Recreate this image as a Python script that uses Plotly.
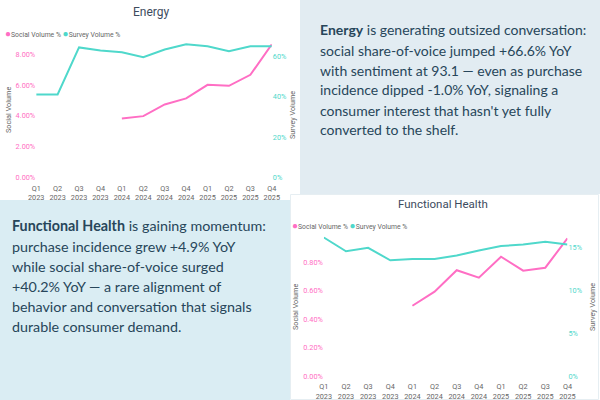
import plotly.graph_objects as go

# ---------------- data ----------------
quarters = ["Q1<br>2023", "Q2<br>2023", "Q3<br>2023", "Q4<br>2023",
            "Q1<br>2024", "Q2<br>2024", "Q3<br>2024", "Q4<br>2024",
            "Q1<br>2025", "Q2<br>2025", "Q3<br>2025", "Q4<br>2025"]

energy_social = [None, None, None, None, 3.83, 3.98, 4.74, 5.13, 6.01, 5.95, 6.66, 8.64]
energy_survey = [41.2, 41.2, 64.5, 63.0, 62.1, 59.7, 63.5, 66.1, 65.1, 62.6, 65.1, 65.1]

fh_social = [None, None, None, None, 0.493, 0.592, 0.742, 0.690, 0.837, 0.739, 0.760, 0.966]
fh_survey = [16.1, 14.5, 14.9, 13.45, 13.6, 13.6, 14.0, 14.6, 15.1, 15.3, 15.6, 15.3]

energy_left_ticks = [0, 2, 4, 6, 8]
energy_right_ticks = [0, 20, 40, 60]
fh_left_ticks = [0, 0.2, 0.4, 0.6, 0.8]
fh_right_ticks = [0, 5, 10, 15]

energy_lines = ["<b>Energy</b> is generating outsized conversation:",
                "social share-of-voice jumped +66.6% YoY",
                "with sentiment at 93.1 — even as purchase",
                "incidence dipped -1.0% YoY, signaling a",
                "consumer interest that hasn't yet fully",
                "converted to the shelf."]
fh_lines = ["<b>Functional Health</b> is gaining momentum:",
            "purchase incidence grew +4.9% YoY",
            "while social share-of-voice surged",
            "+40.2% YoY — a rare alignment of",
            "behavior and conversation that signals",
            "durable consumer demand."]

PINK = "#ff6ec4"
TEAL = "#4fd8cb"
GRAY = "#666666"
TXT = "#27465a"
CFONT = "Roboto"
TICK = 7.3

W, H = 600, 400
def px(x): return x / W
def py(y): return 1 - y / H

fig = go.Figure()

# Energy chart
fig.add_trace(go.Scatter(x=quarters, y=energy_survey, mode="lines",
                         line=dict(color=TEAL, width=2), xaxis="x", yaxis="y2",
                         name="Survey Volume %", showlegend=False))
fig.add_trace(go.Scatter(x=quarters, y=energy_social, mode="lines",
                         line=dict(color=PINK, width=2), xaxis="x", yaxis="y",
                         name="Social Volume %", showlegend=False))
# Functional Health chart
fig.add_trace(go.Scatter(x=quarters, y=fh_survey, mode="lines",
                         line=dict(color=TEAL, width=2), xaxis="x3", yaxis="y4",
                         name="Survey Volume %", showlegend=False))
fig.add_trace(go.Scatter(x=quarters, y=fh_social, mode="lines",
                         line=dict(color=PINK, width=2), xaxis="x3", yaxis="y3",
                         name="Social Volume %", showlegend=False))

xcommon = dict(type="category", showgrid=False, zeroline=False, showline=False,
               ticks="", automargin=False, ticklabelstandoff=5,
               tickfont=dict(family=CFONT, size=TICK, color=GRAY))
ycommon = dict(showgrid=False, zeroline=False, showline=False, ticks="", automargin=False)

def pct(vals, dec):
    return [f"{v:.{dec}f}%" for v in vals]

fig.update_layout(
    width=W, height=H, margin=dict(l=0, r=0, t=0, b=0, autoexpand=False),
    paper_bgcolor="white", plot_bgcolor="rgba(0,0,0,0)", showlegend=False,
    xaxis=dict(xcommon, domain=[px(36.2), px(271.8)], anchor="y"),
    yaxis=dict(ycommon, domain=[py(177.5), py(40)], range=[0, 8.92], anchor="x",
               tickmode="array", tickvals=energy_left_ticks, ticktext=pct(energy_left_ticks, 2),
               tickfont=dict(family=CFONT, size=TICK, color=PINK)),
    yaxis2=dict(ycommon, overlaying="y", side="right", range=[0, 68.2], anchor="x",
                tickmode="array", tickvals=energy_right_ticks, ticktext=pct(energy_right_ticks, 0),
                tickfont=dict(family=CFONT, size=TICK, color=TEAL)),
    xaxis3=dict(xcommon, domain=[px(323.85), px(567.45)], anchor="y3"),
    yaxis3=dict(ycommon, domain=[py(376), py(232)], range=[0, 1.0105], anchor="x3",
                tickmode="array", tickvals=fh_left_ticks, ticktext=pct(fh_left_ticks, 2),
                tickfont=dict(family=CFONT, size=TICK, color=PINK)),
    yaxis4=dict(ycommon, overlaying="y3", side="right", range=[0, 16.74], anchor="x3",
                tickmode="array", tickvals=fh_right_ticks, ticktext=pct(fh_right_ticks, 0),
                tickfont=dict(family=CFONT, size=TICK, color=TEAL)),
)

# panels
fig.add_shape(type="rect", xref="paper", yref="paper", layer="below",
              x0=px(300), x1=1, y0=py(194), y1=1, fillcolor="#e2ecf2", line_width=0)
fig.add_shape(type="rect", xref="paper", yref="paper", layer="below",
              x0=0, x1=px(290), y0=0, y1=py(200), fillcolor="#daedf3", line_width=0)
fig.add_shape(type="rect", xref="paper", yref="paper", layer="below",
              x0=px(290.5), x1=px(598.5), y0=py(399.5), y1=py(194.5), fillcolor="white",
              line=dict(color="#e6eef2", width=1))

ann = []
# text blocks, one annotation per line (20 px line pitch)
for i, line in enumerate(energy_lines):
    ann.append(dict(text=line, x=px(318), y=py(30 + 20 * i), xref="paper", yref="paper",
                    xanchor="left", yanchor="middle", align="left", showarrow=False,
                    font=dict(family="Lato", size=14, color=TXT)))
for i, line in enumerate(fh_lines):
    ann.append(dict(text=line, x=px(10), y=py(226 + 20 * i), xref="paper", yref="paper",
                    xanchor="left", yanchor="middle", align="left", showarrow=False,
                    font=dict(family="Lato", size=14.3, color=TXT)))
# titles
ann.append(dict(text="Energy", x=px(151), y=py(12), xref="paper", yref="paper",
                xanchor="center", yanchor="middle", showarrow=False,
                font=dict(family=CFONT, size=12, color="#3d4b5e")))
ann.append(dict(text="Functional Health", x=px(443), y=py(204), xref="paper", yref="paper",
                xanchor="center", yanchor="middle", showarrow=False,
                font=dict(family=CFONT, size=11.5, color="#3d4b5e")))
# legends
for (lx, ly) in [(3, 33), (290, 225)]:
    ann.append(dict(text=f"<span style='color:{PINK};font-size:10px'>●</span>Social Volume % "
                         f"<span style='color:{TEAL};font-size:10px'>●</span>Survey Volume %",
                    x=px(lx), y=py(ly), xref="paper", yref="paper",
                    xanchor="left", yanchor="middle",
                    showarrow=False, font=dict(family=CFONT, size=6.8, color=GRAY)))
# axis titles
for (tx, ty, t) in [(8, 110, "Social Volume"), (293, 115, "Survey Volume"),
                    (295, 307, "Social Volume"), (592, 307, "Survey Volume")]:
    ann.append(dict(text=t, x=px(tx), y=py(ty), xref="paper", yref="paper",
                    xanchor="center", yanchor="middle",
                    textangle=-90, showarrow=False,
                    font=dict(family=CFONT, size=7.3, color=GRAY)))
fig.update_layout(annotations=ann)

fig.write_html("out.html", config={"displayModeBar": False},
               post_script="document.body.style.margin='0';document.body.style.overflow='hidden';")
